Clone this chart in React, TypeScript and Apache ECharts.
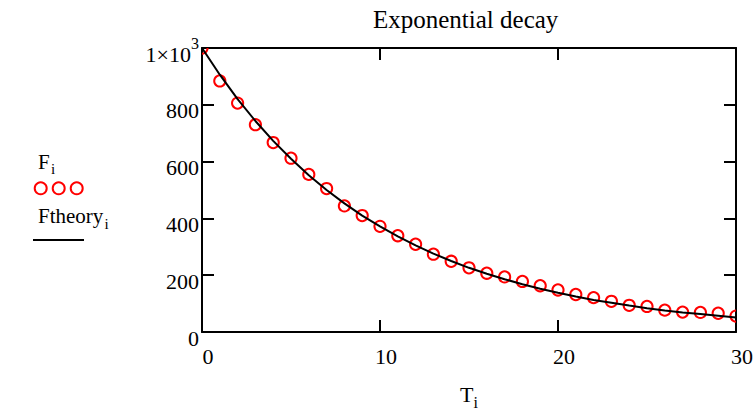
import React, { useEffect, useRef } from "react";
import * as echarts from "echarts";

const T = [0, 1, 2, 3, 4, 5, 6, 7, 8, 9, 10, 11, 12, 13, 14, 15, 16, 17, 18, 19, 20, 21, 22, 23, 24, 25, 26, 27, 28, 29, 30];
const F = [1000, 884, 806, 730, 667, 612, 555, 505, 444, 410, 372, 339, 309, 274, 249, 226, 207, 194, 178, 163, 148, 132, 121, 108, 94, 90, 77, 70, 69, 66, 56];
const Ftheory = [1000, 906, 820, 743, 673, 610, 552, 500, 453, 410, 372, 337, 305, 276, 250, 226, 205, 186, 168, 152, 138, 125, 113, 103, 93, 84, 76, 69, 63, 57, 51];
const xTicks = { min: 0, max: 30, interval: 10 };
const yTicks = { min: 0, max: 1000, interval: 200 };
const TITLE = "Exponential decay";

const SERIF = "'Liberation Serif', 'Times New Roman', Times, serif";

export default function App() {
  const ref = useRef<HTMLDivElement>(null);
  useEffect(() => {
    if (!ref.current) return;
    const chart = echarts.init(ref.current, null, { renderer: "svg" });
    const axisLine = { show: true, onZero: false, lineStyle: { color: "#000", width: 2 } };
    const axisTick = { show: true, inside: true, length: 12, lineStyle: { color: "#000", width: 2 } };
    const fPairs = T.map((t, i) => [t, F[i]]);
    const thPairs = T.map((t, i) => [t, Ftheory[i]]);
    chart.setOption({
      animation: false,
      backgroundColor: "#fff",
      title: {
        text: TITLE,
        left: 373,
        top: 7,
        padding: 0,
        textStyle: { fontFamily: SERIF, fontSize: 25, fontWeight: "normal", color: "#000" },
      },
      grid: { left: 202, top: 48, width: 538, height: 289, containLabel: false },
      xAxis: [
        {
          type: "value",
          position: "bottom",
          ...xTicks,
          axisLine,
          axisTick,
          splitLine: { show: false },
          axisLabel: {
            color: "#000",
            fontFamily: SERIF,
            fontSize: 22,
            margin: 13,
            padding: [0, 0, 0, 12],
          },
          name: "{t|T}{s|i}",
          nameLocation: "middle",
          nameGap: 46,
          nameTextStyle: {
            rich: {
              t: { fontFamily: SERIF, fontSize: 22, color: "#000", verticalAlign: "middle" },
              s: { fontFamily: SERIF, fontSize: 16, color: "#000", verticalAlign: "middle", padding: [16, 0, 0, 0] },
            },
          },
        },
        {
          type: "value",
          position: "top",
          ...xTicks,
          axisLine,
          axisTick,
          splitLine: { show: false },
          axisLabel: { show: false },
        },
      ],
      yAxis: [
        {
          type: "value",
          position: "left",
          ...yTicks,
          axisLine,
          axisTick,
          splitLine: { show: false },
          axisLabel: {
            color: "#000",
            fontFamily: SERIF,
            fontSize: 22,
            margin: 3,
            padding: [12, 0, 0, 0],
            formatter: (v: number) => (v === 1000 ? "{m|1×10}{s|3}" : "{m|" + v + "}"),
            rich: {
              m: { fontFamily: SERIF, fontSize: 22, color: "#000", verticalAlign: "middle" },
              s: { fontFamily: SERIF, fontSize: 16, color: "#000", verticalAlign: "middle", padding: [0, 0, 22, 0] },
            },
          },
        },
        {
          type: "value",
          position: "right",
          ...yTicks,
          axisLine,
          axisTick,
          splitLine: { show: false },
          axisLabel: { show: false },
        },
      ],
      series: [
        {
          name: "F",
          type: "custom",
          data: fPairs,
          clip: true,
          z: 2,
          renderItem: (params: any, api: any) => {
            const p = api.coord([api.value(0), api.value(1)]);
            return {
              type: "circle",
              shape: { cx: p[0], cy: p[1], r: 5.6 },
              style: { fill: "none", stroke: "#ff0000", lineWidth: 2 },
            };
          },
        },
        {
          name: "Ftheory",
          type: "line",
          data: thPairs,
          showSymbol: false,
          symbol: "none",
          clip: true,
          z: 3,
          lineStyle: { color: "#000", width: 2 },
        },
      ],
      graphic: [
        { type: "text", x: 38, y: 162, style: { text: "F", fontFamily: SERIF, fontSize: 21, fill: "#000", verticalAlign: "middle", align: "left" } },
        { type: "text", x: 51, y: 169, style: { text: "i", fontFamily: SERIF, fontSize: 15, fill: "#000", verticalAlign: "middle", align: "left" } },
        { type: "circle", shape: { cx: 40.7, cy: 188.3, r: 6 }, style: { fill: "none", stroke: "#ff0000", lineWidth: 2 } },
        { type: "circle", shape: { cx: 58.7, cy: 188.3, r: 6 }, style: { fill: "none", stroke: "#ff0000", lineWidth: 2 } },
        { type: "circle", shape: { cx: 76.7, cy: 188.3, r: 6 }, style: { fill: "none", stroke: "#ff0000", lineWidth: 2 } },
        { type: "text", x: 38, y: 216, style: { text: "Ftheory", fontFamily: SERIF, fontSize: 21, fill: "#000", verticalAlign: "middle", align: "left" } },
        { type: "text", x: 104.5, y: 224, style: { text: "i", fontFamily: SERIF, fontSize: 15, fill: "#000", verticalAlign: "middle", align: "left" } },
        { type: "line", shape: { x1: 33, y1: 240, x2: 84, y2: 240 }, style: { stroke: "#000", lineWidth: 2 } },
      ],
    });
    return () => chart.dispose();
  }, []);
  return (
    <div
      ref={ref}
      style={{ position: "fixed", left: 0, top: 0, width: 756, height: 415, background: "#fff" }}
    />
  );
}
